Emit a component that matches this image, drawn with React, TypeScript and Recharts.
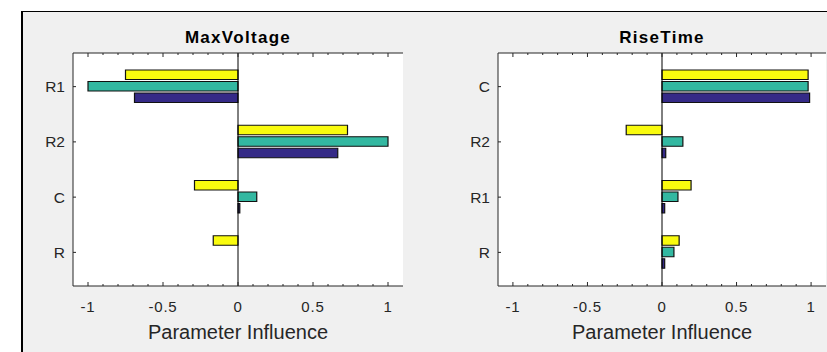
import { BarChart, Bar, XAxis, YAxis, CartesianGrid, ReferenceLine, Label } from 'recharts';

const MV_CATEGORIES = ['R1', 'R2', 'C', 'R'];
const MV_YELLOW = [-0.75, 0.73, -0.29, -0.165];
const MV_TEAL = [-1.0, 1.0, 0.125, 0];
const MV_BLUE = [-0.69, 0.665, 0.012, 0];

const RT_CATEGORIES = ['C', 'R2', 'R1', 'R'];
const RT_YELLOW = [0.98, -0.24, 0.195, 0.115];
const RT_TEAL = [0.98, 0.14, 0.107, 0.08];
const RT_BLUE = [0.99, 0.025, 0.018, 0.018];

const MAJOR_TICKS = [-1, -0.5, 0, 0.5, 1];
const MINOR_TICKS = [-1, -0.9, -0.8, -0.7, -0.6, -0.5, -0.4, -0.3, -0.2, -0.1, 0, 0.1, 0.2, 0.3, 0.4, 0.5, 0.6, 0.7, 0.8, 0.9, 1];

const FONT = '"Liberation Sans", Arial, Helvetica, sans-serif';
const AXIS = '#262626';
const YELLOW = '#f9fb0e';
const TEAL = '#33b8a1';
const BLUE = '#352a87';

const build = (cats: string[], y: number[], t: number[], b: number[]) =>
  cats.map((name, i) => ({ name, yellow: y[i], teal: t[i], blue: b[i] }));

// inward ticks, longer on the labelled ones (matlab look)
const XTick = ({ x, y, payload, side }: any) => {
  const major = MAJOR_TICKS.includes(payload.value);
  const len = major ? 4 : 2;
  const dir = side === 'top' ? 1 : -1;
  return (
    <g>
      <line x1={x} x2={x} y1={y} y2={y + dir * len} stroke={AXIS} strokeWidth={1} />
      {side === 'bottom' && major && (
        <text x={x} y={y + 26} textAnchor="middle" fontSize={15} fontFamily={FONT} fill={AXIS} letterSpacing={0.8}>
          {payload.value}
        </text>
      )}
    </g>
  );
};

const Panel = ({ title, data, left, width, yWidth, marginRight }: any) => (
  <div style={{ position: 'absolute', left, top: 0 }}>
    <BarChart
      width={width}
      height={352}
      data={data}
      layout="vertical"
      margin={{ top: 0, right: marginRight, bottom: 0, left: 0 }}
      barSize={9.5}
      barGap={2}
    >
      <CartesianGrid xAxisId="b" yAxisId="l" horizontal={false} vertical={false} fill="#ffffff" />
      <XAxis
        xAxisId="b"
        type="number"
        orientation="bottom"
        domain={[-1.1, 1.1]}
        allowDataOverflow
        ticks={MINOR_TICKS}
        interval={0}
        height={66}
        tickSize={0}
        tickMargin={0}
        tickLine={false}
        axisLine={{ stroke: AXIS }}
        tick={<XTick side="bottom" />}
      >
        <Label
          content={(p: any) => (
            <text x={p.viewBox.x + p.viewBox.width / 2} y={339} textAnchor="middle" fontSize={20} fontFamily={FONT} fill={AXIS}>
              Parameter Influence
            </text>
          )}
        />
      </XAxis>
      <XAxis
        xAxisId="t"
        type="number"
        orientation="top"
        domain={[-1.1, 1.1]}
        allowDataOverflow
        ticks={MINOR_TICKS}
        interval={0}
        height={53}
        tickSize={0}
        tickMargin={0}
        tickLine={false}
        axisLine={{ stroke: AXIS }}
        tick={<XTick side="top" />}
      >
        <Label
          content={(p: any) => (
            <text x={p.viewBox.x + p.viewBox.width / 2} y={43} textAnchor="middle" fontSize={17} fontWeight="bold" fontFamily={FONT} fill="#000" letterSpacing={1.3}>
              {title}
            </text>
          )}
        />
      </XAxis>
      <YAxis
        yAxisId="l"
        type="category"
        dataKey="name"
        width={yWidth}
        padding={{ top: 6, bottom: 6 }}
        tickSize={-3}
        tickMargin={11}
        axisLine={{ stroke: AXIS }}
        tickLine={{ stroke: AXIS }}
        tick={{ fontSize: 15.5, fontFamily: FONT, fill: AXIS }}
      />
      <YAxis
        yAxisId="r"
        type="category"
        dataKey="name"
        orientation="right"
        width={0}
        padding={{ top: 6, bottom: 6 }}
        tickSize={-3}
        axisLine={{ stroke: AXIS }}
        tickLine={{ stroke: AXIS }}
        tick={() => null}
      />
      <Bar xAxisId="b" yAxisId="l" dataKey="yellow" fill={YELLOW} stroke="#111" strokeWidth={1.2} isAnimationActive={false} />
      <Bar xAxisId="b" yAxisId="l" dataKey="teal" fill={TEAL} stroke="#111" strokeWidth={1.2} isAnimationActive={false} />
      <Bar xAxisId="b" yAxisId="l" dataKey="blue" fill={BLUE} stroke="#111" strokeWidth={1.2} isAnimationActive={false} />
      <ReferenceLine xAxisId="b" yAxisId="l" x={0} stroke="#000" strokeWidth={1} />
    </BarChart>
  </div>
);

export default function App() {
  return (
    <div style={{ position: 'absolute', left: 0, top: 0, width: 827, height: 352, background: '#ffffff', overflow: 'hidden' }}>
      <div
        style={{
          position: 'absolute',
          left: 21,
          top: 11,
          width: 827 - 23,
          height: 352 - 12,
          background: '#f0f0f0',
          borderLeft: '2px solid #000',
          borderTop: '1px solid #000',
        }}
      />
      <Panel
        title="MaxVoltage"
        data={build(MV_CATEGORIES, MV_YELLOW, MV_TEAL, MV_BLUE)}
        left={0}
        width={413}
        yWidth={73}
        marginRight={10}
      />
      <Panel
        title="RiseTime"
        data={build(RT_CATEGORIES, RT_YELLOW, RT_TEAL, RT_BLUE)}
        left={413}
        width={414}
        yWidth={85}
        marginRight={1}
      />
    </div>
  );
}
